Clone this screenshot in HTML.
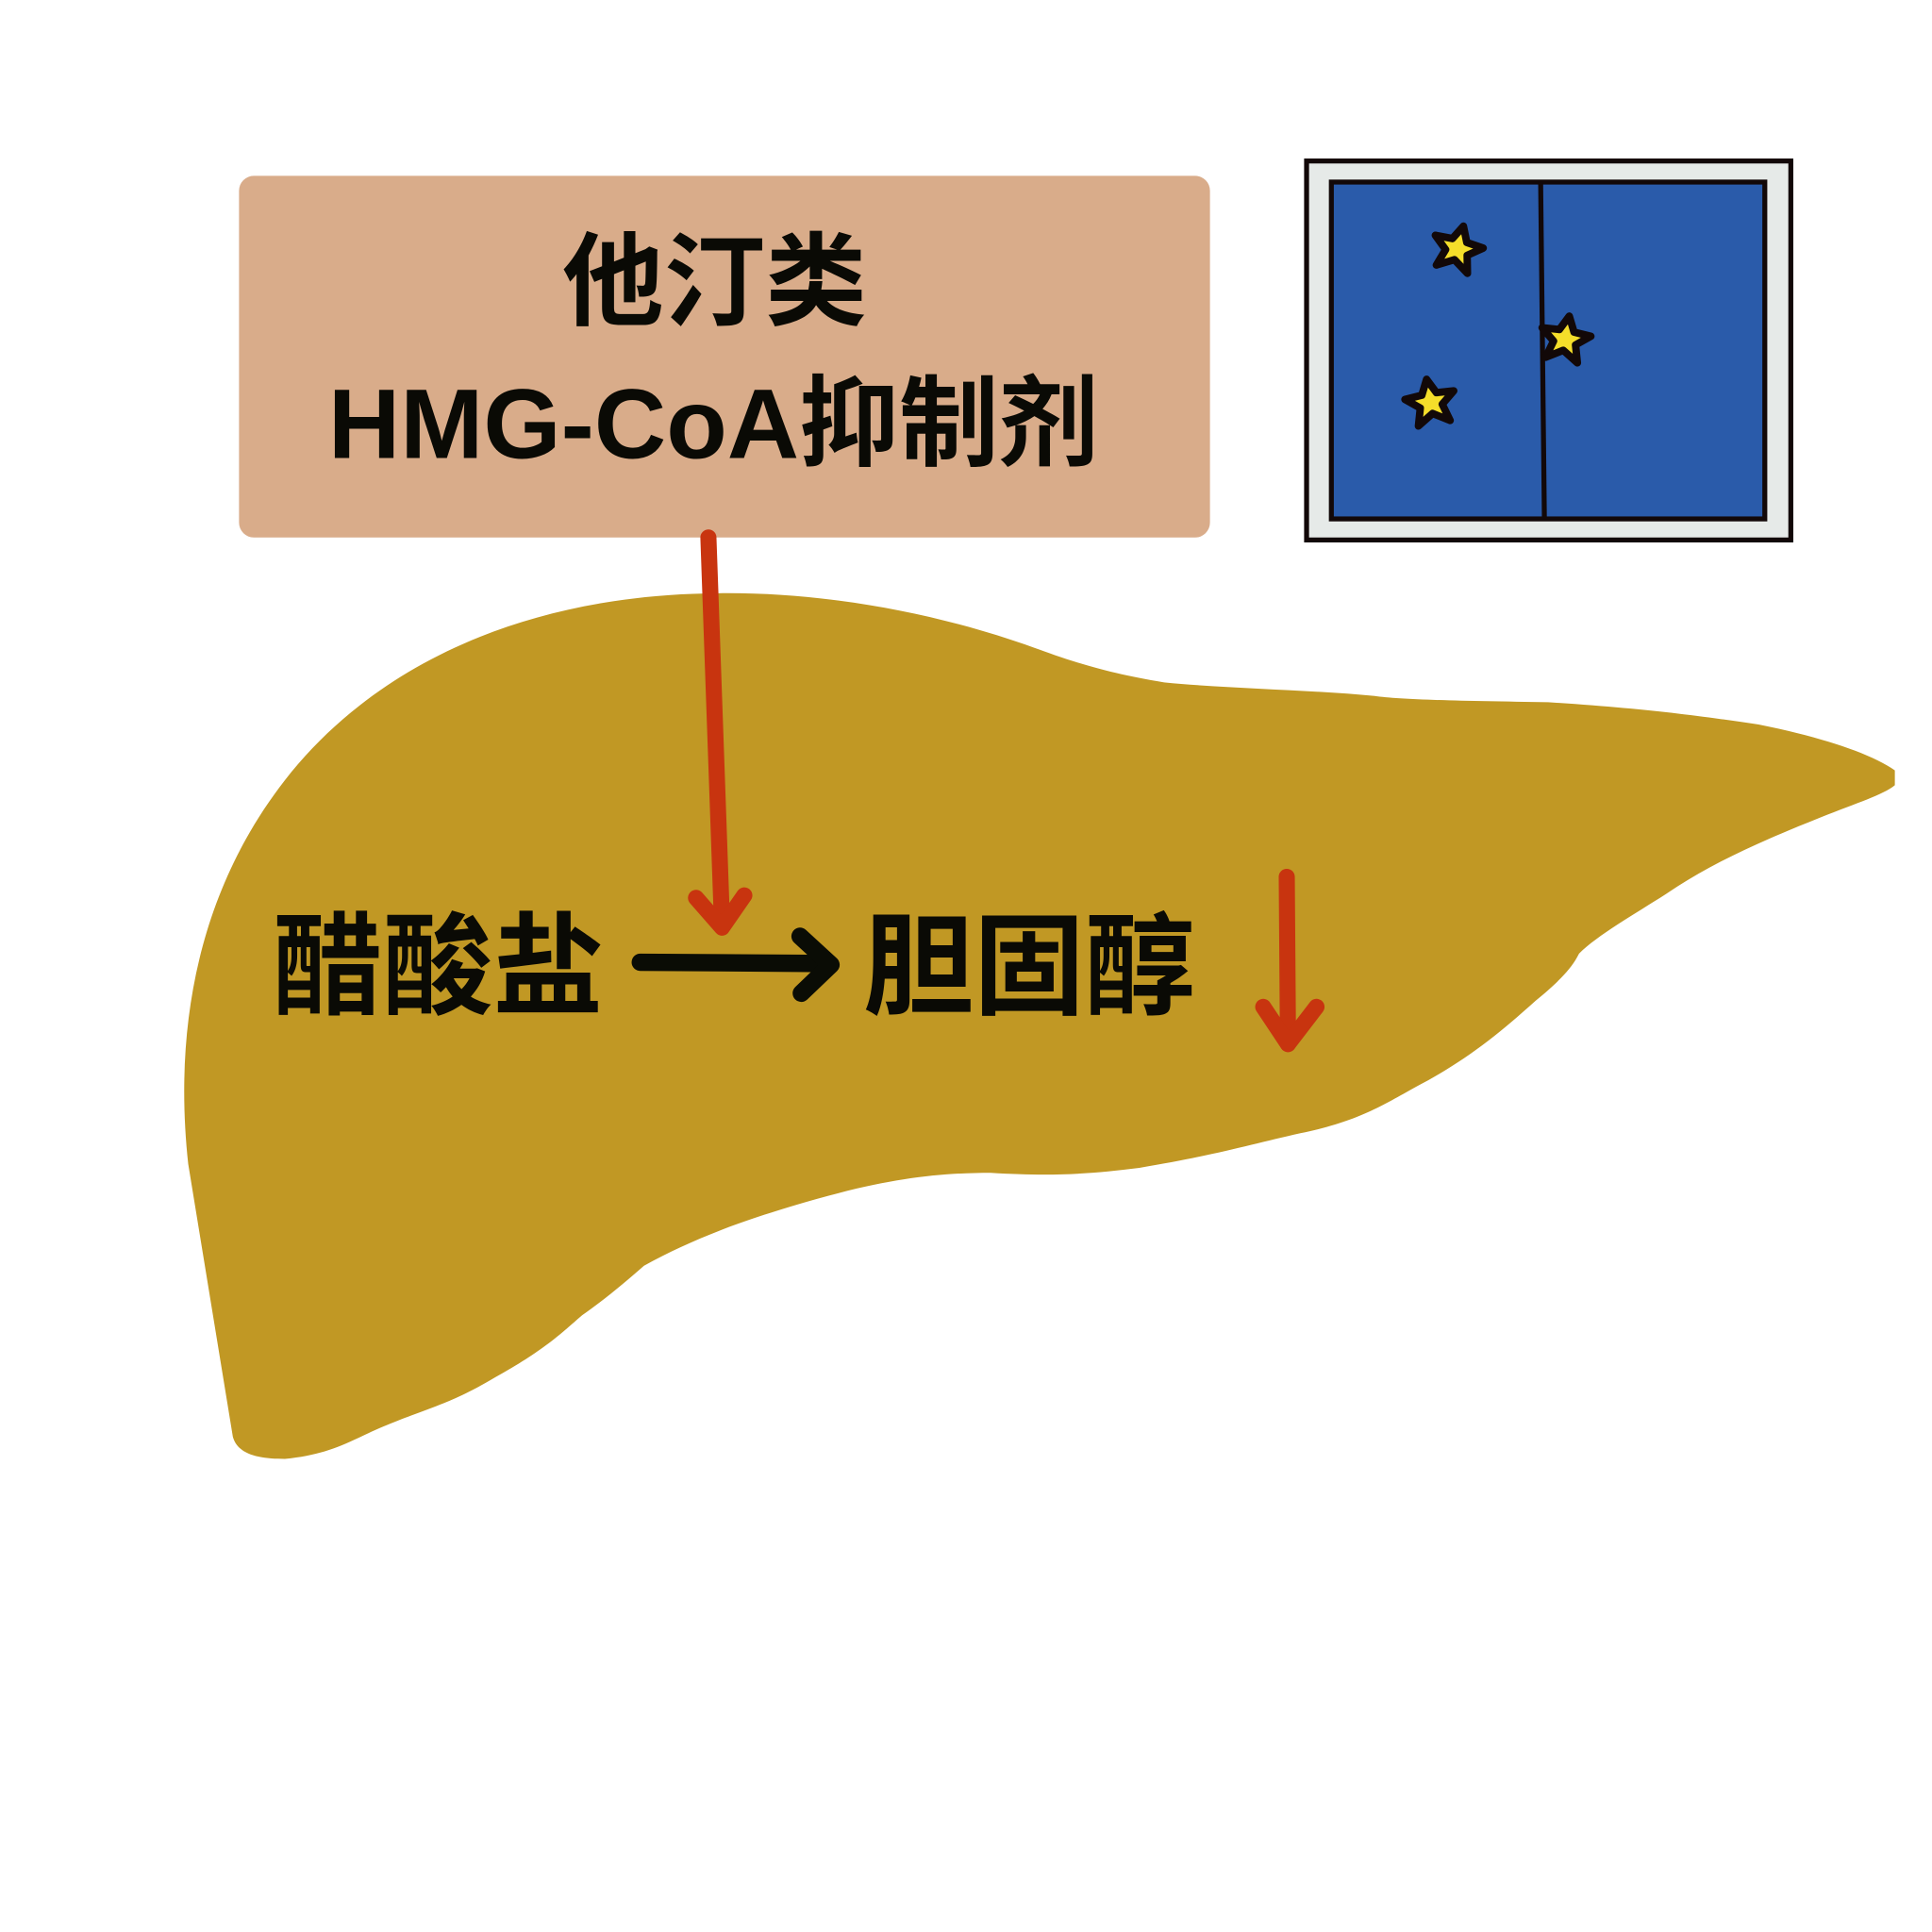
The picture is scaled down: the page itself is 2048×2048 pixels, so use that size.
<!DOCTYPE html>
<html><head><meta charset="utf-8"><style>
html,body{margin:0;padding:0;background:#fff;}
svg{display:block;}
</style></head><body>
<svg width="2048" height="2048" viewBox="0 0 1560 1560" xmlns="http://www.w3.org/2000/svg">
<rect width="1560" height="1560" fill="#fff"/>
<!-- liver -->
<path d="M835,523 C760,496 670,478 580,479 C420,480 300,540 230,630 C160,720 140,830 152,940 L188,1160 C192,1175 210,1178 230,1178 C260,1175 275,1168 300,1156 C340,1138 360,1136 400,1112 C440,1090 455,1075 470,1062 C490,1048 505,1035 520,1022 C560,1000 600,985 660,968 C720,951 760,947 800,947 C850,950 880,948 920,943 C980,933 1010,924 1050,915 C1100,905 1120,890 1150,874 C1185,855 1210,835 1240,808 C1262,790 1270,780 1275,770 C1290,755 1320,738 1345,722 C1380,698 1420,680 1470,660 C1500,648 1520,642 1530,634 L1530,622 C1510,608 1470,595 1420,585 C1380,579 1330,572 1250,567 C1180,566 1130,565 1110,562 C1060,557 990,556 940,551 C890,543 860,532 835,523 Z" fill="#C19824"/>
<!-- box -->
<rect x="193" y="142" width="784" height="292" rx="12" fill="#D9AC8A"/>
<text x="577" y="256" font-family="'Liberation Sans','Noto Sans CJK SC',sans-serif" font-size="82" font-weight="bold" text-anchor="middle" fill="#0a0a05">他汀类</text>
<text x="576" y="370" font-family="'Liberation Sans','Noto Sans CJK SC',sans-serif" font-size="80" font-weight="bold" text-anchor="middle" fill="#0a0a05" textLength="622" lengthAdjust="spacingAndGlyphs">HMG-CoA抑制剂</text>
<!-- window -->
<rect x="1055" y="130" width="391" height="306" fill="#E6EAE8" stroke="#120808" stroke-width="4"/>
<rect x="1075" y="147" width="350" height="272" fill="#2A5BAA" stroke="#120808" stroke-width="4"/>
<line x1="1244" y1="148" x2="1247" y2="418" stroke="#120808" stroke-width="4"/>
<g fill="#F5DE2A" stroke="#120808" stroke-width="6" stroke-linejoin="round">
<polygon id="s" points="0,-18 6,-6 20,-5 9,4 13,18 0,10 -13,18 -9,4 -20,-5 -6,-6" transform="translate(1177,200) rotate(15)"/>
<polygon points="0,-18 6,-6 20,-5 9,4 13,18 0,10 -13,18 -9,4 -20,-5 -6,-6" transform="translate(1264,273) rotate(10)"/>
<polygon points="0,-18 6,-6 20,-5 9,4 13,18 0,10 -13,18 -9,4 -20,-5 -6,-6" transform="translate(1155,324) rotate(-10)"/>
</g>
<!-- red arrow -->
<g stroke="#C8340F" stroke-width="13" stroke-linecap="round" stroke-linejoin="round" fill="none">
<line x1="572" y1="434" x2="583" y2="746"/>
<polyline points="562,725 583,749 601,723"/>
<line x1="1039" y1="708" x2="1040" y2="843"/>
<polyline points="1020,813 1040,843 1063,813"/>
</g>
<!-- black arrow -->
<g stroke="#0a0c05" stroke-width="14" stroke-linecap="round" stroke-linejoin="round" fill="none">
<line x1="517" y1="777" x2="668" y2="778"/>
<polyline points="646,756 671,779 647,802"/>
</g>
<text x="220" y="812" font-family="'Liberation Sans','Noto Sans CJK SC',sans-serif" font-size="90" font-weight="bold" fill="#0a0a05" textLength="267" lengthAdjust="spacingAndGlyphs">醋酸盐</text>
<text x="697" y="812" font-family="'Liberation Sans','Noto Sans CJK SC',sans-serif" font-size="90" font-weight="bold" fill="#0a0a05" textLength="268" lengthAdjust="spacingAndGlyphs">胆固醇</text>
</svg>
</body></html>
